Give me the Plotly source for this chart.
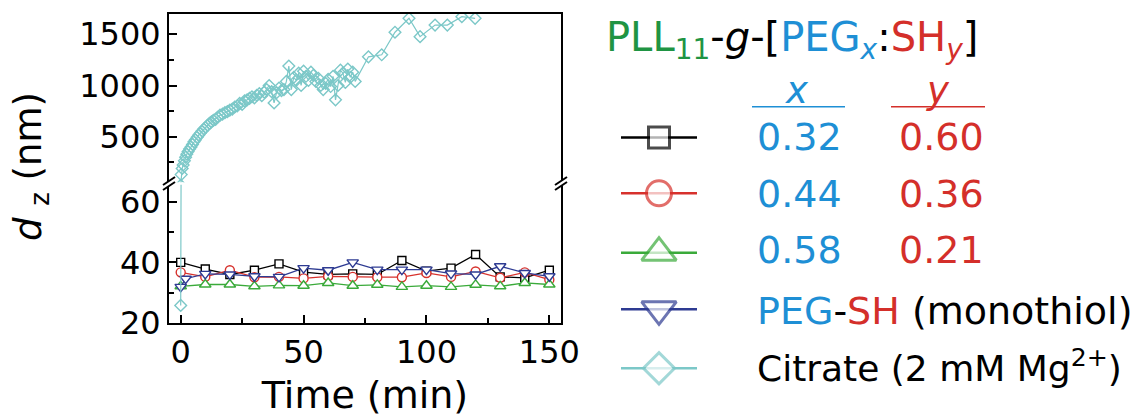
import plotly.graph_objects as go

# ---------------- data ----------------
time_min = [0, 10, 20, 30, 40, 50, 60, 70, 80, 90, 100, 110, 120, 130, 140, 150]
dz_032 = [40.0, 37.8, 36.0, 37.4, 39.5, 36.8, 36.0, 36.2, 36.0, 40.6, 37.1, 38.1, 42.6, 35.2, 34.9, 37.4]
dz_044 = [36.7, 35.2, 37.4, 35.1, 35.2, 34.7, 35.4, 35.2, 35.1, 35.1, 36.5, 35.2, 37.0, 34.9, 36.7, 34.3]
dz_058 = [32.1, 32.7, 32.7, 32.1, 32.4, 32.3, 33.2, 32.3, 32.6, 31.9, 32.3, 31.9, 32.6, 32.1, 33.2, 32.7]
time_peg = [0, 2, 10, 20, 30, 40, 50, 60, 70, 80, 90, 100, 110, 120, 130, 140, 150]
dz_peg = [31.9, 34.6, 36.2, 36.0, 35.4, 35.2, 38.1, 37.4, 40.0, 37.6, 37.6, 37.6, 36.3, 36.0, 38.7, 36.5, 35.4]

time_cit = [0, 0.2, 0.6, 1.0, 1.5, 2.0, 2.5, 3.0, 3.6, 4.2, 4.8, 5.4, 6.0, 6.7, 7.3, 8.0, 8.7, 9.4,
            10.1, 10.9, 11.7, 12.5, 13.3, 14.2, 15.0, 16.0, 17.0, 18.0, 19.0, 20.0, 21.0, 22.0, 23.0,
            24.0, 25.0, 26.0, 27.0, 28.0, 29.0, 30.0, 31.0, 32.0, 33.0, 34.0, 35.0, 36.0, 37.0, 38.0,
            39.0, 40.0, 41.0, 42.0, 43.0, 44.0, 45.0, 46.0, 47.0, 48.0, 49.0, 50.0, 51.0, 52.0, 53.0,
            54.0, 55.0, 56.0, 57.0, 58.0, 59.0, 60.0, 61.0, 62.0, 63.0, 64.0, 65.0, 66.0, 67.0, 68.0,
            69.0, 70.0, 71.0, 76.4, 81.8, 87.2, 92.9, 97.4, 103.5, 108.5, 114.4, 119.8]
dz_cit = [25.8, 130, 190, 225, 265, 300, 330, 355, 380, 400, 425, 450, 470, 495, 515, 535, 555, 575,
          590, 610, 630, 645, 660, 670, 690, 710, 720, 735, 745, 760, 770, 790, 800,
          825, 815, 850, 860, 875, 890, 880, 905, 920, 900, 935, 960, 1000, 940, 830,
          930, 975, 950, 960, 1040, 1190, 960, 1080, 1050, 1120, 1000, 1140, 1090, 1050, 1130,
          1100, 1040, 1070, 1000, 960, 1020, 1060, 990, 1090, 860, 1000, 1150, 1120, 1030, 1160,
          1080, 1130, 1040, 1280, 1300, 1520, 1656, 1477, 1590, 1590, 1672, 1656]

x_vals = ["0.32", "0.44", "0.58"]
y_vals = ["0.60", "0.36", "0.21"]

# ---------------- styles ----------------
FONT = "DejaVu Sans"
BLACK = "#000000"
RED = "#d7312c"
GREEN = "#3aaa3a"
BLUE = "#2e3b92"
CYAN = "#7cc8c8"
TXT_BLUE = "#1e8fd5"
TXT_RED = "#d42f2a"
TXT_GREEN = "#1f9443"

W, H = 1141, 417
def px(X):
    return X / W
def py(Y):
    return (H - Y) / H

fig = go.Figure()

series = [
    (time_min, dz_032, BLACK, "square", 8),
    (time_min, dz_044, RED, "circle", 9),
    (time_min, dz_058, GREEN, "triangle-up", 10),
    (time_peg, dz_peg, BLUE, "triangle-down", 10),
]
for t, v, c, s, sz in series:
    fig.add_trace(go.Scatter(x=t, y=v, mode="lines+markers", xaxis="x", yaxis="y",
                             line=dict(color=c, width=1.3),
                             marker=dict(symbol=s, size=sz, color="white", line=dict(color=c, width=1.4)),
                             showlegend=False, hoverinfo="skip"))

for ya, xa in (("y", "x"), ("y2", "x2")):
    fig.add_trace(go.Scatter(x=time_cit, y=dz_cit, mode="lines+markers", xaxis=xa, yaxis=ya,
                             line=dict(color=CYAN, width=1.2),
                             marker=dict(symbol="diamond-open", size=9, color=CYAN, line=dict(width=1.4)),
                             showlegend=False, hoverinfo="skip"))

# legend samples on a hidden full-page pixel-space axis
leg_rows = [
    (BLACK, "square", 21, 137.5),
    (RED, "circle", 25, 193.3),
    (GREEN, "triangle-up", 30, 252.7),
    (BLUE, "triangle-down", 30, 309.3),
    (CYAN, "diamond", 24, 368.3),
]
for c, s, sz, yy in leg_rows:
    fig.add_trace(go.Scatter(x=[621, 659, 697], y=[yy, yy, yy], mode="lines+markers",
                             xaxis="x3", yaxis="y3", cliponaxis=False,
                             line=dict(color=c, width=2.4),
                             marker=dict(symbol=s, size=[0, sz, 0], color="white",
                                         line=dict(color=c, width=3)),
                             showlegend=False, hoverinfo="skip"))

x_dom = [px(169), px(561)]
y_low = [py(323), py(184.7)]
y_up = [py(182.3), py(14)]
axis_common = dict(showline=True, linecolor=BLACK, linewidth=2, ticks="inside", ticklen=8,
                   tickwidth=2, tickcolor=BLACK, showgrid=False, zeroline=False, automargin=False,
                   tickfont=dict(family=FONT, size=32, color=BLACK))

fig.update_layout(
    width=W, height=H, autosize=False,
    margin=dict(l=0, r=0, t=0, b=0, pad=0),
    paper_bgcolor="white", plot_bgcolor="rgba(0,0,0,0)",
    font=dict(family=FONT, color=BLACK),
    xaxis=dict(domain=x_dom, anchor="y", range=[-4.76, 154.75], dtick=50, tick0=0,
               minor=dict(ticks="inside", ticklen=5, dtick=25, tickwidth=2, tickcolor=BLACK),
               title=dict(text="Time (min)", font=dict(family=FONT, size=38, color=BLACK), standoff=12),
               **axis_common),
    xaxis2=dict(domain=x_dom, anchor="y2", matches="x", side="top", showline=True, linecolor=BLACK,
                linewidth=2, ticks="", showticklabels=False, showgrid=False, zeroline=False,
                automargin=False),
    yaxis=dict(domain=y_low, anchor="x", range=[20, 65.6], dtick=20, tick0=0, mirror=True,
               minor=dict(ticks="inside", ticklen=5, dtick=10, tickwidth=2, tickcolor=BLACK),
               **axis_common),
    yaxis2=dict(domain=y_up, anchor="x2", range=[55, 1698], dtick=500, tick0=0, mirror=True,
                minor=dict(ticks="inside", ticklen=5, dtick=250, tickwidth=2, tickcolor=BLACK),
                **axis_common),
    xaxis3=dict(domain=[0, 1], anchor="y3", range=[0, W], visible=False, fixedrange=True, automargin=False),
    yaxis3=dict(domain=[0, 1], anchor="x3", range=[H, 0], visible=False, fixedrange=True, automargin=False),
)

ann = []
# y axis title
ann.append(dict(xref="paper", yref="paper", x=px(31), y=py(167), text="<i>d</i> <sub>z</sub> (nm)",
                textangle=-90, showarrow=False, font=dict(family=FONT, size=37, color=BLACK),
                xanchor="center", yanchor="middle"))
# legend title
title = (f"<span style='color:{TXT_GREEN}'>PLL<sub>11</sub></span>-<i>g</i>-["
         f"<span style='color:{TXT_BLUE}'>PEG<sub><i>x</i></sub></span>:"
         f"<span style='color:{TXT_RED}'>SH<sub><i>y</i></sub></span>]")
ann.append(dict(xref="paper", yref="paper", x=px(604), y=py(40), text=title, showarrow=False,
                font=dict(family=FONT, size=40, color=BLACK), xanchor="left", yanchor="middle"))
# column headers
ann.append(dict(xref="paper", yref="paper", x=px(797), y=py(90), text="<i>x</i>", showarrow=False,
                font=dict(family=FONT, size=37, color=TXT_BLUE), xanchor="center", yanchor="middle"))
ann.append(dict(xref="paper", yref="paper", x=px(938), y=py(90), text="<i>y</i>", showarrow=False,
                font=dict(family=FONT, size=37, color=TXT_RED), xanchor="center", yanchor="middle"))
row_y = [137.5, 193.5, 250.0]
for xv, yv, yy in zip(x_vals, y_vals, row_y):
    ann.append(dict(xref="paper", yref="paper", x=px(755), y=py(yy), text=xv, showarrow=False,
                    font=dict(family=FONT, size=38, color=TXT_BLUE), xanchor="left", yanchor="middle"))
    ann.append(dict(xref="paper", yref="paper", x=px(897), y=py(yy), text=yv, showarrow=False,
                    font=dict(family=FONT, size=38, color=TXT_RED), xanchor="left", yanchor="middle"))
ann.append(dict(xref="paper", yref="paper", x=px(755), y=py(311),
                text=f"<span style='color:{TXT_BLUE}'>PEG</span>-<span style='color:{TXT_RED}'>SH</span> (monothiol)",
                showarrow=False, font=dict(family=FONT, size=38, color=BLACK), xanchor="left", yanchor="middle"))
ann.append(dict(xref="paper", yref="paper", x=px(755), y=py(366),
                text="Citrate (2 mM Mg<sup>2+</sup>)",
                showarrow=False, font=dict(family=FONT, size=36, color=BLACK), xanchor="left", yanchor="middle"))
fig.update_layout(annotations=ann)

shapes = []
# header underlines
shapes.append(dict(type="line", xref="paper", yref="paper", x0=px(752), x1=px(845), y0=py(106.7), y1=py(106.7),
                   line=dict(color=TXT_BLUE, width=1.5)))
shapes.append(dict(type="line", xref="paper", yref="paper", x0=px(891), x1=px(985), y0=py(106.7), y1=py(106.7),
                   line=dict(color=TXT_RED, width=1.5)))
# axis break marks
yb = 183.5
for xb in (169, 561):
    path = (f"M {px(xb-6)},{py(yb+1.5)} L {px(xb+6)},{py(yb-6.5)} "
            f"L {px(xb+6)},{py(yb-1.5)} L {px(xb-6)},{py(yb+6.5)} Z")
    shapes.append(dict(type="path", xref="paper", yref="paper", path=path, fillcolor="white",
                       line=dict(width=0), layer="above"))
    for d in (-2.5, 2.5):
        shapes.append(dict(type="line", xref="paper", yref="paper", x0=px(xb - 6), y0=py(yb + 4 + d),
                           x1=px(xb + 6), y1=py(yb - 4 + d), line=dict(color=BLACK, width=2), layer="above"))
fig.update_layout(shapes=shapes)

fig.write_html("out.html")
